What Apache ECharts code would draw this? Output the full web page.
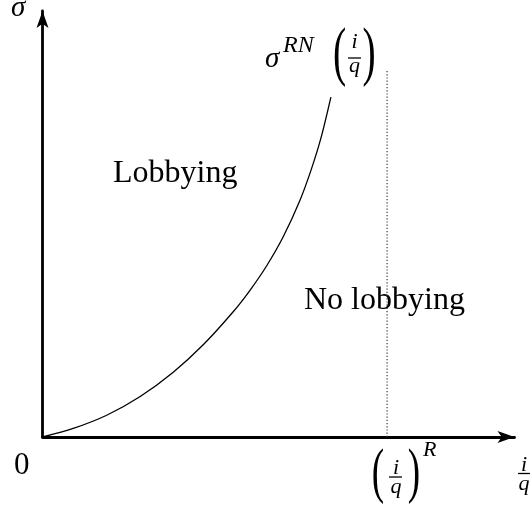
<!DOCTYPE html>
<html lang="en">
<head>
<meta charset="utf-8">
<title>Lobbying</title>
<script src="https://cdn.jsdelivr.net/npm/echarts@6/dist/echarts.min.js"></script>
<style>
  html, body { margin: 0; padding: 0; background: #fff; }
  #main { width: 530px; height: 512px; }
</style>
</head>
<body>
<div id="main"></div>
<script>
// sigma^RN(i/q) curve (axis units 0-100)
var curveX = [0, 6.5, 13.6, 20.7, 27.7, 34.1, 40.4, 44.0, 47.5, 51.0, 54.6, 57.0, 59.0, 61.1];
var curveY = [0, 2.0, 5.1, 9.5, 15.2, 21.7, 29.4, 34.5, 40.2, 47.0, 55.7, 63.0, 70.2, 79.8];
// (i/q)^R threshold, dotted vertical line
var thresholdX = [73, 73];
var thresholdY = [0, 86];
var xRange = [0, 100];
var yRange = [0, 100];

var SERIF = "'Liberation Serif', 'DejaVu Serif', serif";

var chart = echarts.init(document.getElementById('main'));

// texte simple
function txt(x, y, s, size, italic, align) {
  return {
    type: 'text', silent: true,
    style: {
      x: x, y: y, text: s,
      fontSize: size, fontFamily: SERIF,
      fontStyle: italic ? 'italic' : 'normal',
      fill: '#000',
      textAlign: align || 'left', textVerticalAlign: 'middle'
    }
  };
}
// grande parenthese
function paren(x, y, s, size) {
  return {
    type: 'text', silent: true,
    x: x, y: y, scaleX: 0.6,
    style: {
      x: 0, y: 0, text: s,
      fontSize: size, fontFamily: SERIF,
      fill: '#000', textAlign: 'center', textVerticalAlign: 'middle'
    }
  };
}
// barre de fraction
function bar(x1, x2, y) {
  return {
    type: 'line', silent: true,
    shape: { x1: x1, y1: y, x2: x2, y2: y },
    style: { stroke: '#000', lineWidth: 1.3 }
  };
}

var axisCommon = {
  type: 'value',
  axisLine: {
    show: true, onZero: false,
    symbol: ['none', 'arrow'], symbolSize: [9, 17],
    lineStyle: { color: '#000', width: 2.8 }
  },
  axisTick: { show: false },
  axisLabel: { show: false },
  splitLine: { show: false }
};

var option = {
  animation: false,
  backgroundColor: '#fff',
  grid: { left: 42.5, right: 15.5, top: 11, bottom: 75 },
  xAxis: Object.assign({}, axisCommon, { min: xRange[0], max: xRange[1] }),
  yAxis: Object.assign({}, axisCommon, { min: yRange[0], max: yRange[1] }),
  series: [
    {
      name: 'threshold',
      type: 'line',
      data: thresholdX.map(function (x, i) { return [x, thresholdY[i]]; }),
      showSymbol: false,
      lineStyle: { color: '#333', width: 1.2, type: [1.2, 2] },
      z: 1
    },
    {
      name: 'sigmaRN',
      type: 'line',
      data: curveX.map(function (x, i) { return [x, curveY[i]]; }),
      smooth: 0.3,
      showSymbol: false,
      lineStyle: { color: '#000', width: 1.3 },
      z: 3
    }
  ],
  graphic: [
    // axes
    txt(11, 8, 'σ', 29, true),
    txt(14, 466, '0', 31, false),
    txt(524, 465, 'i', 22, true, 'center'),
    bar(518, 530, 473.5),
    txt(524, 484, 'q', 22, true, 'center'),
    // zones
    txt(113, 173.5, 'Lobbying', 32, false),
    txt(304, 300.5, 'No lobbying', 32, false),
    // sigma^RN (i/q)
    txt(265, 59, 'σ', 29, true),
    txt(283, 46, 'RN', 24, true),
    paren(339.5, 56, '(', 66),
    paren(369, 56, ')', 66),
    txt(354.5, 42, 'i', 22, true, 'center'),
    bar(348, 361, 58),
    txt(354.5, 66, 'q', 22, true, 'center'),
    // (i/q)^R
    paren(378, 475, '(', 62),
    paren(414, 475, ')', 62),
    txt(396, 468, 'i', 22, true, 'center'),
    bar(389, 402, 477),
    txt(396, 487, 'q', 22, true, 'center'),
    txt(423, 450, 'R', 22, true)
  ]
};
chart.setOption(option);
</script>
</body>
</html>
